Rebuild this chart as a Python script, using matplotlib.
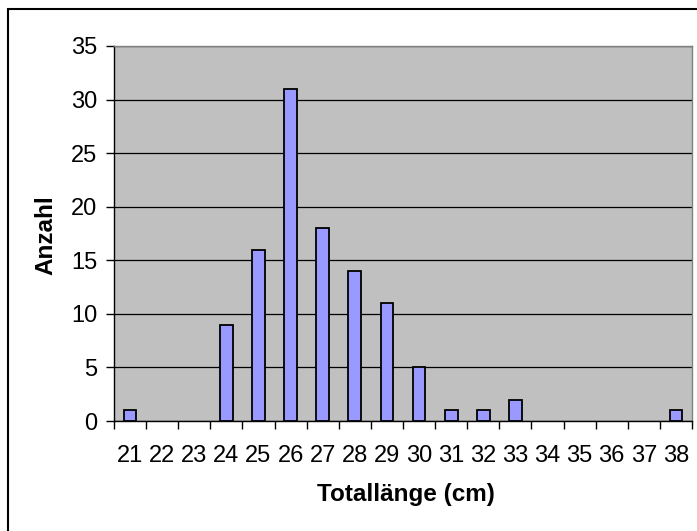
import matplotlib.pyplot as plt
from matplotlib.patches import Rectangle

lengths = ['21', '22', '23', '24', '25', '26', '27', '28', '29', '30',
           '31', '32', '33', '34', '35', '36', '37', '38']
counts = [1, 0, 0, 9, 16, 31, 18, 14, 11, 5, 1, 1, 2, 0, 0, 0, 0, 1]

plt.rcParams['font.family'] = ['Liberation Sans', 'DejaVu Sans']

fig = plt.figure(figsize=(6.97, 5.31), dpi=100)
ax = fig.add_axes([114 / 697, 1 - 421 / 531, 578 / 697, 375 / 531])
ax.set_facecolor('#C0C0C0')

x = list(range(len(lengths)))
bars = ax.bar(x, counts, width=0.4, color='#9999FF', edgecolor='black', linewidth=1.3, zorder=3)
for b, c in zip(bars, counts):
    if c == 0:
        b.set_visible(False)   # excel draws nothing for empty classes

ax.set_xlim(-0.5, len(lengths) - 0.5)
ax.set_ylim(0, 35)
ax.set_yticks(range(0, 36, 5))
ax.yaxis.grid(True, color='black', linewidth=0.9, zorder=0)
ax.set_axisbelow(True)

# category axis: ticks between categories, labels centred
ax.set_xticks([i - 0.5 for i in range(len(lengths) + 1)])
ax.set_xticklabels([])
ax.set_xticks(x, minor=True)
ax.set_xticklabels(lengths, minor=True, fontsize=17)
ax.tick_params(axis='x', which='minor', length=0, pad=17)
ax.tick_params(axis='x', which='major', length=6, width=1, direction='out')
ax.tick_params(axis='y', labelsize=17, length=6, width=1, direction='out', pad=6)

for s in ['top', 'right']:
    ax.spines[s].set_color('#808080')
    ax.spines[s].set_linewidth(1)
ax.spines['left'].set_linewidth(1)
ax.spines['bottom'].set_linewidth(1)

fig.text(406 / 697, 1 - 495 / 531, 'Totallänge (cm)', fontsize=17.5, fontweight='bold',
         ha='center', va='center')
fig.text(46 / 697, 1 - 235 / 531, 'Anzahl', fontsize=17.5, fontweight='bold',
         ha='center', va='center', rotation=90)

# outer chart frame (right and bottom edges fall outside the picture)
fig.patches.append(Rectangle((8 / 697, -0.05), 1.0, 1 - 9 / 531 + 0.05, transform=fig.transFigure,
                             fill=False, edgecolor='black', linewidth=1.5))

fig.savefig('out.png', dpi=100)
